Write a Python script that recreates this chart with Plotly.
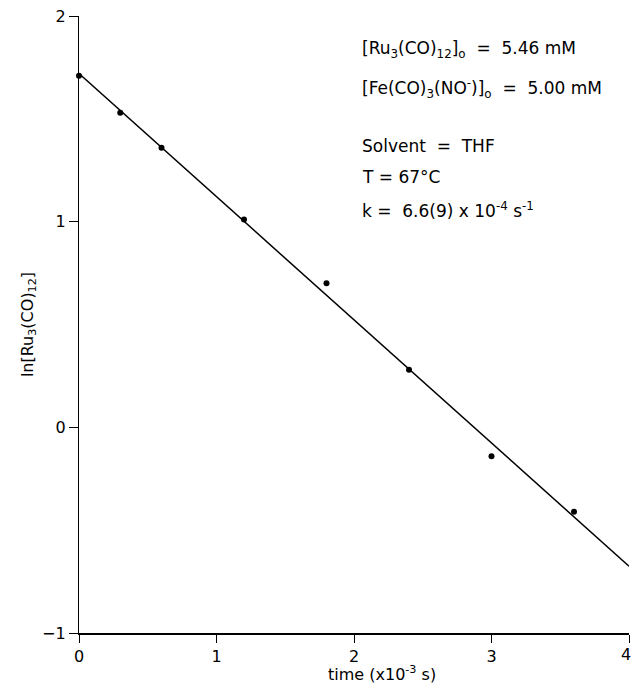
import plotly.graph_objects as go

# Data
time_s = [0.0, 0.3, 0.6, 1.2, 1.8, 2.4, 3.0, 3.6]          # x10^-3 s
ln_conc = [1.71, 1.53, 1.36, 1.01, 0.70, 0.28, -0.14, -0.41]
fit_time = [0.0, 4.0]
fit_ln = [1.72, -0.675]

x_ticks = [0, 1, 2, 3, 4]
x_tick_labels = ["0", "1", "2", "3", "4"]
y_ticks = [-1, 0, 1, 2]

FONT = "DejaVu Sans"

fig = go.Figure()
fig.add_trace(go.Scatter(x=fit_time, y=fit_ln, mode="lines",
                         line=dict(color="black", width=1.5),
                         cliponaxis=False, showlegend=False))
fig.add_trace(go.Scatter(x=time_s, y=ln_conc, mode="markers",
                         marker=dict(color="black", size=6),
                         cliponaxis=False, showlegend=False))

# last x tick label sits at the very edge; draw it as an annotation so it is not hidden
axis_labels = x_tick_labels[:-1] + [""]

fig.update_layout(
    width=632, height=684,
    margin=dict(l=79, r=3, t=16, b=51),
    plot_bgcolor="white", paper_bgcolor="white",
    font=dict(family=FONT, color="black", size=16),
    xaxis=dict(range=[0, 4], tickvals=x_ticks, ticktext=axis_labels,
               showline=True, linecolor="black",
               linewidth=1.5, ticks="outside", ticklen=8, tickcolor="black",
               showgrid=False, zeroline=False),
    yaxis=dict(range=[-1, 2], tickvals=y_ticks, showline=True, linecolor="black",
               linewidth=1.2, ticks="outside", ticklen=9, tickcolor="black",
               showgrid=False, zeroline=False,
               title=dict(text="ln[Ru<sub>3</sub>(CO)<sub>12</sub>]", standoff=4,
                          font=dict(size=16))),
)

fig.add_annotation(text=x_tick_labels[-1], xref="x", yref="paper",
                   x=x_ticks[-1], y=-(654 - 633) / 617, xshift=4,
                   xanchor="right", yanchor="middle", showarrow=False,
                   font=dict(family=FONT, size=16, color="black"))

# x-axis title, slightly right of centre as in the reference
fig.add_annotation(text="time (x10<sup>-3</sup> s)", xref="paper", yref="paper",
                   x=(382 - 79) / 550, y=-(673 - 633) / 617,
                   xanchor="center", yanchor="middle", showarrow=False,
                   font=dict(family=FONT, size=16, color="black"))

notes = [
    ("[Ru<sub>3</sub>(CO)<sub>12</sub>]<sub>o</sub>  =  5.46 mM", 50),
    ("[Fe(CO)<sub>3</sub>(NO<sup>-</sup>)]<sub>o</sub>  =  5.00 mM", 88),
    ("Solvent  =  THF", 146),
    ("T = 67°C", 177),
    ("k =  6.6(9) x 10<sup>-4</sup> s<sup>-1</sup>", 210),
]
for txt, ypx in notes:
    fig.add_annotation(text=txt, xref="paper", yref="paper",
                       x=(360 - 79) / 550, y=1 - (ypx - 16) / 617,
                       xanchor="left", yanchor="middle", showarrow=False,
                       font=dict(family=FONT, size=17, color="black"))

fig.write_html("out.html", config={"displayModeBar": False},
               post_script="document.body.style.margin='0px';"
                           "document.body.style.overflow='hidden';")
